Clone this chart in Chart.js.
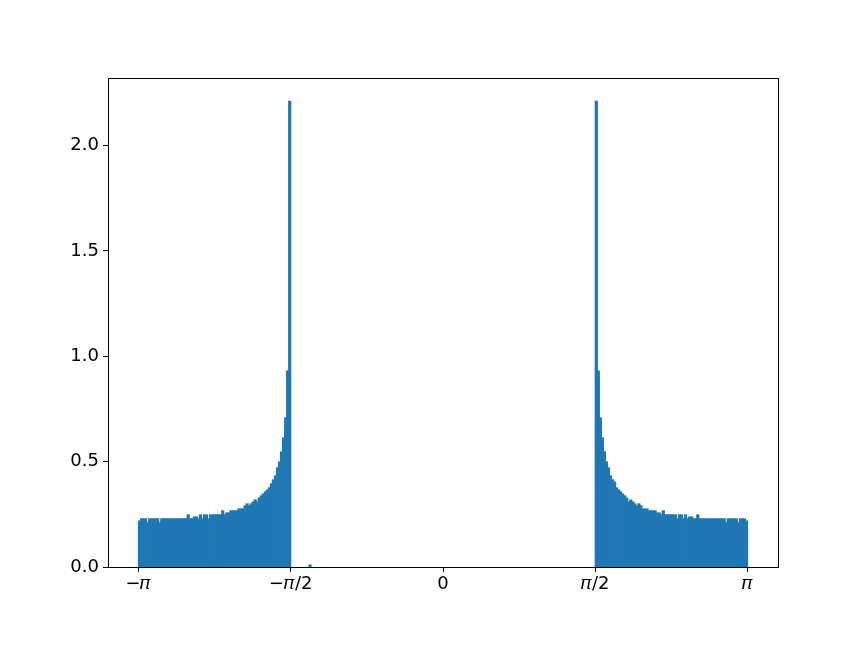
<!DOCTYPE html>
<html>
<head>
<meta charset="utf-8">
<script src="https://cdn.jsdelivr.net/npm/chart.js@4/dist/chart.umd.min.js"></script>
<style>
  html, body { margin: 0; padding: 0; background: #fff; }
  #wrap { width: 864px; height: 648px; }
</style>
</head>
<body>
<div id="wrap"><canvas id="hist"></canvas></div>
<script>
// histogram: 300 bins over [-pi, pi], density values
const binCount = 300;
const binLo = -Math.PI;
const binHi = Math.PI;

// bins 0..74 (from -pi up to -pi/2)
const leftHeights = [
  0.218,
  0.228, 0.228, 0.228,
  0.209,
  0.228, 0.228, 0.228, 0.228, 0.228,
  0.209,
  0.228, 0.228, 0.228, 0.228, 0.228, 0.228, 0.228, 0.228, 0.228, 0.228, 0.228, 0.228, 0.228,
  0.247,
  0.228, 0.228,
  0.237, 0.237,
  0.228,
  0.247,
  0.228,
  0.247, 0.247,
  0.228,
  0.247, 0.247, 0.247, 0.247, 0.247, 0.247,
  0.266,
  0.247,
  0.256, 0.256,
  0.266, 0.266, 0.266, 0.266,
  0.275, 0.275, 0.275,
  0.290, 0.299, 0.290, 0.299, 0.308, 0.318, 0.308, 0.327, 0.337, 0.346,
  0.356, 0.365, 0.375, 0.394, 0.413, 0.432, 0.470, 0.498, 0.546, 0.612,
  0.707, 0.930, 2.210
];

// bins 225..299 (from pi/2 up to pi)
const rightHeights = [
  2.210, 0.930, 0.707, 0.612, 0.546, 0.498, 0.470, 0.432, 0.413, 0.403,
  0.375, 0.365, 0.356, 0.346, 0.337, 0.327, 0.308, 0.318, 0.308, 0.299,
  0.290, 0.299, 0.290,
  0.275, 0.275, 0.275,
  0.266, 0.266, 0.266, 0.266,
  0.256, 0.256,
  0.247,
  0.266,
  0.247, 0.247, 0.247, 0.247, 0.247, 0.247,
  0.228,
  0.247, 0.247,
  0.228,
  0.247,
  0.228,
  0.237, 0.237,
  0.228, 0.228,
  0.247,
  0.228, 0.228, 0.228, 0.228, 0.228, 0.228, 0.228, 0.228, 0.228, 0.228, 0.228, 0.228, 0.228,
  0.209,
  0.228, 0.228, 0.228, 0.228, 0.228,
  0.209,
  0.228, 0.228, 0.228,
  0.218
];

// one lone sample near -1.37
const strayBin = 84;
const strayHeight = 0.0095;

const tickValues = [-Math.PI, -Math.PI / 2, 0, Math.PI / 2, Math.PI];
const tickLabels = ['\u2212\u{1D70B}', '\u2212\u{1D70B}/2', '0', '\u{1D70B}/2', '\u{1D70B}'];
const yTicks = [0, 0.5, 1.0, 1.5, 2.0];

// build the bin table, empty bins left out
const binWidth = (binHi - binLo) / binCount;
const heights = new Array(binCount).fill(0);
leftHeights.forEach((h, i) => { heights[i] = h; });
rightHeights.forEach((h, i) => { heights[225 + i] = h; });
heights[strayBin] = strayHeight;
const points = [];
heights.forEach((h, i) => {
  if (h > 0) points.push({ x: binLo + (i + 0.5) * binWidth, y: h });
});

const maxY = Math.max(...heights) * 1.05;
const pad = (binHi - binLo) * 0.05;

// matplotlib style box around the axes
const frame = {
  id: 'frame',
  afterDraw(chart) {
    const a = chart.chartArea;
    const ctx = chart.ctx;
    ctx.save();
    ctx.strokeStyle = '#000';
    ctx.lineWidth = 1;
    ctx.strokeRect(Math.round(a.left) + 0.5, Math.round(a.top) + 0.5,
      Math.round(a.right - a.left), Math.round(a.bottom - a.top));
    ctx.restore();
  }
};

Chart.defaults.font.family = "'DejaVu Sans', sans-serif";
Chart.defaults.color = '#000';

new Chart(document.getElementById('hist'), {
  type: 'bar',
  data: {
    datasets: [{
      data: points,
      backgroundColor: '#1f77b4',
      borderWidth: 0,
      inflateAmount: 0.6,
      barPercentage: 1.0,
      categoryPercentage: 1.0
    }]
  },
  options: {
    responsive: true,
    maintainAspectRatio: false,
    animation: false,
    layout: { padding: { left: 0, right: 86, top: 78, bottom: 0 } },
    plugins: { legend: { display: false }, tooltip: { enabled: false } },
    scales: {
      x: {
        type: 'linear',
        offset: false,
        min: binLo - pad,
        max: binHi + pad,
        afterBuildTicks: s => { s.ticks = tickValues.map(v => ({ value: v })); },
        afterFit: s => { s.height = 81; },
        ticks: {
          font: { size: 18 },
          padding: 2,
          maxRotation: 0,
          callback: (v, i) => tickLabels[i]
        },
        grid: { offset: false, drawOnChartArea: false, tickLength: 5, color: '#000' },
        border: { color: '#000' }
      },
      y: {
        min: 0,
        max: maxY,
        afterBuildTicks: s => { s.ticks = yTicks.map(v => ({ value: v })); },
        afterFit: s => { s.width = 108; },
        ticks: {
          font: { size: 18 },
          padding: 4,
          callback: v => v.toFixed(1)
        },
        grid: { drawOnChartArea: false, tickLength: 5, color: '#000' },
        border: { color: '#000' }
      }
    }
  },
  plugins: [frame]
});
</script>
</body>
</html>
